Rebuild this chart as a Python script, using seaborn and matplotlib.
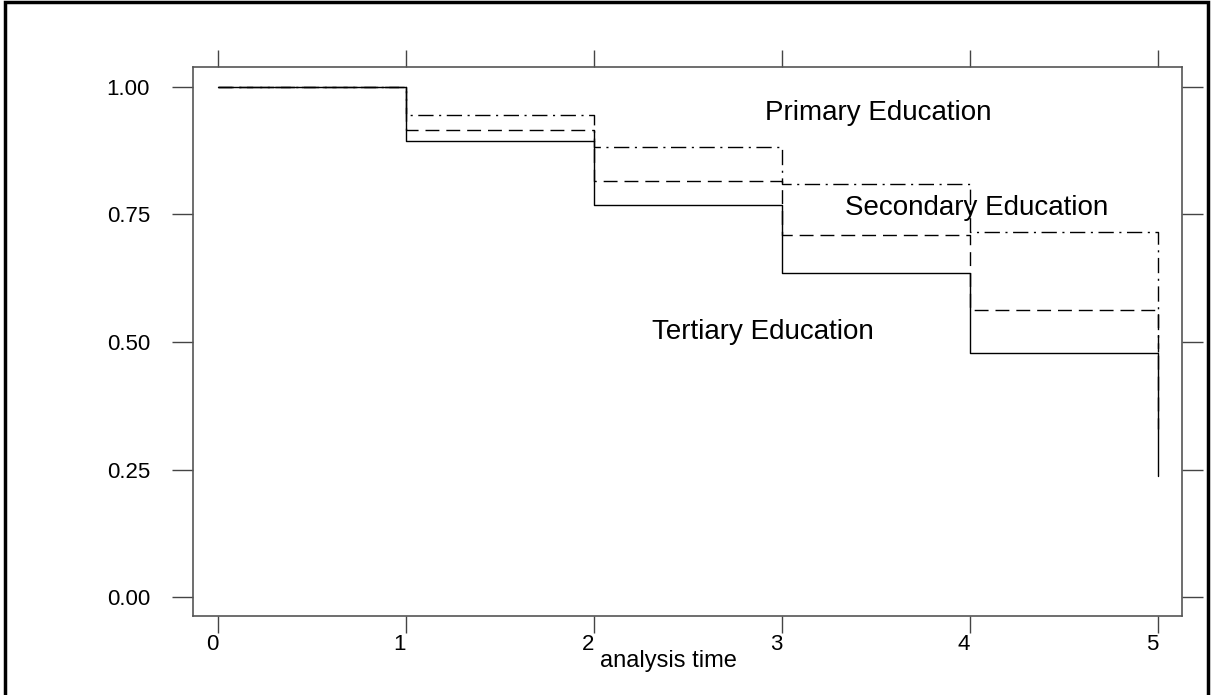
import numpy as np
import pandas as pd
import matplotlib
matplotlib.use("Agg")
import matplotlib.pyplot as plt
import matplotlib.transforms as mtransforms
import seaborn as sns
from matplotlib.patches import Rectangle

# Kaplan-Meier style survival estimates by education level
times = [0, 1, 2, 3, 4, 5]
tertiary = [1.00, 0.893, 0.769, 0.636, 0.478, 0.238]
secondary = [1.00, 0.916, 0.816, 0.710, 0.563, 0.330]
primary = [1.00, 0.945, 0.882, 0.810, 0.715, 0.480]
groups = ["Tertiary Education", "Secondary Education", "Primary Education"]

x_ticks = [0, 1, 2, 3, 4, 5]
y_ticks = [0.00, 0.25, 0.50, 0.75, 1.00]
y_tick_labels = ["0.00", "0.25", "0.50", "0.75", "1.00"]
x_label = "analysis time"

df = pd.DataFrame({
    "time": times * 3,
    "survival": tertiary + secondary + primary,
    "group": [groups[0]] * 6 + [groups[1]] * 6 + [groups[2]] * 6,
})

sns.set_style("ticks")
plt.rcParams["font.family"] = ["Liberation Sans", "DejaVu Sans"]
plt.rcParams["text.color"] = "black"
plt.rcParams["axes.labelcolor"] = "black"
plt.rcParams["xtick.labelcolor"] = "black"
plt.rcParams["ytick.labelcolor"] = "black"

fig = plt.figure(figsize=(12.13, 6.95), dpi=100)
ax = fig.add_axes([0.1591, 0.1137, 0.9745 - 0.1591, 0.9036 - 0.1137])

dash_map = {
    groups[0]: "",
    groups[1]: (10, 5),
    groups[2]: (11, 4, 1.5, 4),
}
sns.lineplot(
    data=df, x="time", y="survival", style="group", dashes=dash_map,
    style_order=groups[::-1], color="black", estimator=None,
    drawstyle="steps-post", linewidth=1.0, legend=False, ax=ax,
)

ax.set_xlim(-0.133, 5.128)
ax.set_ylim(-0.037, 1.039)
ax.set_xticks(x_ticks)
ax.set_yticks(y_ticks)
ax.set_yticklabels(y_tick_labels)
ax.set_xlabel(x_label, fontsize=17, labelpad=0, color="black")
ax.xaxis.set_label_coords(0.481, -0.062)
ax.set_ylabel("")

ax.tick_params(axis="both", direction="out", length=12, width=1.0,
               color="#444444", labelsize=16, labelcolor="black",
               top=True, right=True, labeltop=False, labelright=False)
ax.tick_params(axis="x", pad=1)
ax.tick_params(axis="y", length=15, pad=16)
for s in ax.spines.values():
    s.set_visible(True)
    s.set_color("#555555")
    s.set_linewidth(1.2)

# x tick labels sit slightly to the left of their ticks
shift = mtransforms.ScaledTranslation(-6 / 100, 0, fig.dpi_scale_trans)
for lbl in ax.get_xticklabels():
    lbl.set_transform(lbl.get_transform() + shift)

ax.text(2.91, 0.949, "Primary Education", fontsize=20, va="center", ha="left", color="black")
ax.text(3.335, 0.763, "Secondary Education", fontsize=20, va="center", ha="left", color="black")
ax.text(2.31, 0.520, "Tertiary Education", fontsize=20, va="center", ha="left", color="black")

# outer frame around the figure
fig.patches.append(Rectangle((0.0045, -0.05), 0.9915, 1.047, transform=fig.transFigure,
                             fill=False, edgecolor="black", linewidth=2.5))

fig.savefig("out.png", dpi=100, facecolor="white")
